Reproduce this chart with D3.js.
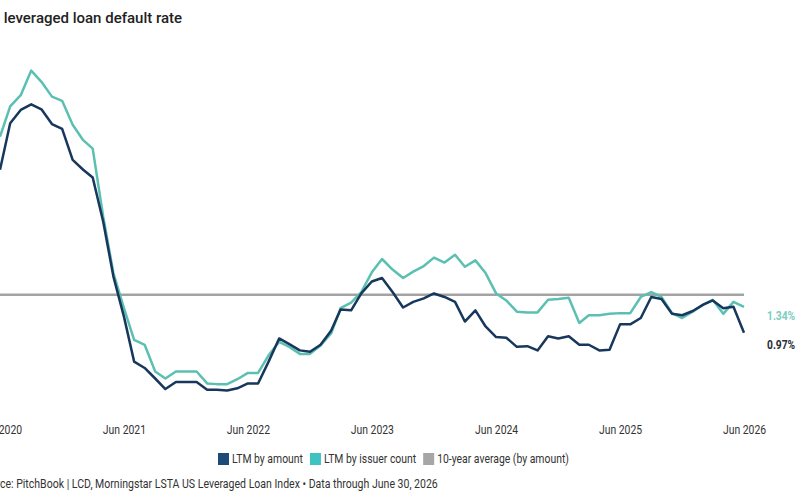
<!DOCTYPE html>
<html>
<head>
<meta charset="utf-8">
<script src="https://cdn.jsdelivr.net/npm/d3@7"></script>
<style>
  body { margin: 0; background: #fff; }
  svg { display: block; }
</style>
</head>
<body>
<div id="chart"></div>
<script>
// monthly data, Jun 2020 .. Jun 2026
const startMonth = new Date(2020, 5, 1);
const byAmount = [3.29, 3.95, 4.14, 4.22, 4.15, 3.94, 3.87, 3.43, 3.29, 3.18,
  2.55, 1.77, 1.20, 0.56, 0.47, 0.32, 0.17, 0.27, 0.27, 0.27,
  0.16, 0.16, 0.15, 0.18, 0.25, 0.25, 0.56, 0.89, 0.81, 0.72,
  0.70, 0.80, 1.00, 1.30, 1.29, 1.53, 1.70, 1.75, 1.55, 1.33,
  1.41, 1.46, 1.53, 1.48, 1.41, 1.13, 1.29, 1.06, 0.91, 0.90,
  0.77, 0.78, 0.72, 0.92, 0.89, 0.92, 0.80, 0.80, 0.72, 0.73,
  1.09, 1.09, 1.18, 1.48, 1.45, 1.24, 1.22, 1.28, 1.37, 1.43,
  1.32, 1.34, 0.97];
const byIssuer = [3.76, 4.19, 4.35, 4.70, 4.54, 4.33, 4.27, 3.93, 3.71, 3.59,
  2.62, 1.82, 1.32, 0.87, 0.80, 0.42, 0.32, 0.42, 0.42, 0.42,
  0.25, 0.24, 0.24, 0.31, 0.40, 0.40, 0.65, 0.84, 0.77, 0.67,
  0.67, 0.79, 0.96, 1.32, 1.40, 1.55, 1.83, 2.02, 1.87, 1.75,
  1.84, 1.92, 2.04, 1.97, 2.08, 1.91, 2.00, 1.82, 1.53, 1.43,
  1.27, 1.26, 1.26, 1.44, 1.45, 1.47, 1.11, 1.22, 1.22, 1.24,
  1.25, 1.25, 1.48, 1.55, 1.48, 1.25, 1.18, 1.27, 1.37, 1.44,
  1.24, 1.41, 1.34];
const tenYearAvg = 1.51;
const tickLabels = ["Jun 2020", "Jun 2021", "Jun 2022", "Jun 2023", "Jun 2024", "Jun 2025", "Jun 2026"];
const legendData = [
  {label: "LTM by amount", color: "#1d4a76"},
  {label: "LTM by issuer count", color: "#3fc3c2"},
  {label: "10-year average (by amount)", color: "#a6a6a6"}
];
const titleText = "US leveraged loan default rate";
const sourceText = "Source: PitchBook | LCD, Morningstar LSTA US Leveraged Loan Index \u2022 Data through June 30, 2026";

const width = 800, height = 500;
const font = "Roboto";
const squeeze = 0.8; // stand-in for a condensed face

const dates = byAmount.map((d, i) => d3.timeMonth.offset(startMonth, i));

const svg = d3.select("#chart").append("svg")
  .attr("width", width)
  .attr("height", height);

svg.append("rect").attr("width", width).attr("height", height).attr("fill", "#fff");

const x = d3.scaleTime()
  .domain([startMonth, dates[dates.length - 1]])
  .range([0, 744]);
const y = d3.scaleLinear()
  .domain([0, 5])
  .range([401, 49.5]);

function textWidth(str, size, weight) {
  const t = svg.append("text")
    .style("font-family", font).style("font-size", size + "px")
    .style("font-weight", weight || "normal").text(str);
  const w = t.node().getComputedTextLength();
  t.remove();
  return w;
}

// squeeze text horizontally
function condense(sel, f) {
  sel.each(function() {
    const w = this.getComputedTextLength();
    d3.select(this).attr("textLength", w * f).attr("lengthAdjust", "spacingAndGlyphs");
  });
}

// title (left part cut off like the reference)
svg.append("text")
  .attr("x", -textWidth("US ", 15, 500))
  .attr("y", 23)
  .style("font-family", font)
  .style("font-size", "15px")
  .style("font-weight", 500)
  .attr("fill", "#222")
  .text(titleText);

// 10-year average
svg.append("line")
  .attr("x1", x(startMonth)).attr("x2", x(dates[dates.length - 1]))
  .attr("y1", y(tenYearAvg)).attr("y2", y(tenYearAvg))
  .attr("stroke", "#a3a3a3")
  .attr("stroke-width", 2.5);

const line = d3.line()
  .x((d, i) => x(dates[i]))
  .y(d => y(d));

svg.append("path")
  .datum(byIssuer)
  .attr("fill", "none")
  .attr("stroke", "#5bc0b2")
  .attr("stroke-width", 2.5)
  .attr("stroke-linejoin", "round")
  .attr("d", line);

svg.append("path")
  .datum(byAmount)
  .attr("fill", "none")
  .attr("stroke", "#17375d")
  .attr("stroke-width", 2.5)
  .attr("stroke-linejoin", "round")
  .attr("d", line);

// end labels
const last = dates.length - 1;
const endLabels = svg.append("g");
endLabels.append("text")
  .attr("x", x(dates[last]) + 23)
  .attr("y", y(byIssuer[last]) + 10)
  .attr("fill", "#7ccdc1")
  .text(byIssuer[last].toFixed(2) + "%");
endLabels.append("text")
  .attr("x", x(dates[last]) + 23)
  .attr("y", y(byAmount[last]) + 13)
  .attr("fill", "#2a2d35")
  .text(byAmount[last].toFixed(2) + "%");
endLabels.selectAll("text")
  .attr("dominant-baseline", "middle")
  .style("font-family", font).style("font-size", "12.5px").style("font-weight", "bold")
  .call(condense, 0.82);

// x axis (labels only)
const tickDates = tickLabels.map((d, i) => d3.timeYear.offset(startMonth, i));
const xAxis = svg.append("g")
  .attr("transform", "translate(0, 425)")
  .call(d3.axisBottom(x).tickValues(tickDates).tickFormat((d, i) => tickLabels[i]).tickSize(0).tickPadding(0));
xAxis.select(".domain").remove();
xAxis.selectAll("text")
  .attr("dy", "0.71em")
  .style("font-family", font)
  .style("font-size", "13px")
  .attr("fill", "#333")
  .call(condense, squeeze);

// legend
const legend = svg.append("g").attr("transform", "translate(218, 453)");
let lx = 0;
legendData.forEach(item => {
  const g = legend.append("g").attr("transform", `translate(${lx}, 0)`);
  g.append("rect")
    .attr("width", 11).attr("height", 12)
    .attr("fill", item.color);
  g.append("text")
    .attr("x", 14).attr("y", 6.5)
    .attr("dominant-baseline", "middle")
    .style("font-family", font).style("font-size", "13px")
    .attr("fill", "#333")
    .text(item.label)
    .call(condense, squeeze);
  lx += 14 + textWidth(item.label, 13) * squeeze + 7;
});

// source line (left part cut off)
const src = svg.append("text")
  .attr("y", 485)
  .attr("dominant-baseline", "middle")
  .style("font-family", font)
  .style("font-size", "13px")
  .attr("fill", "#333")
  .text(sourceText)
  .call(condense, 0.81);
src.attr("x", -textWidth("Sour", 13) * 0.81);
</script>
</body>
</html>
